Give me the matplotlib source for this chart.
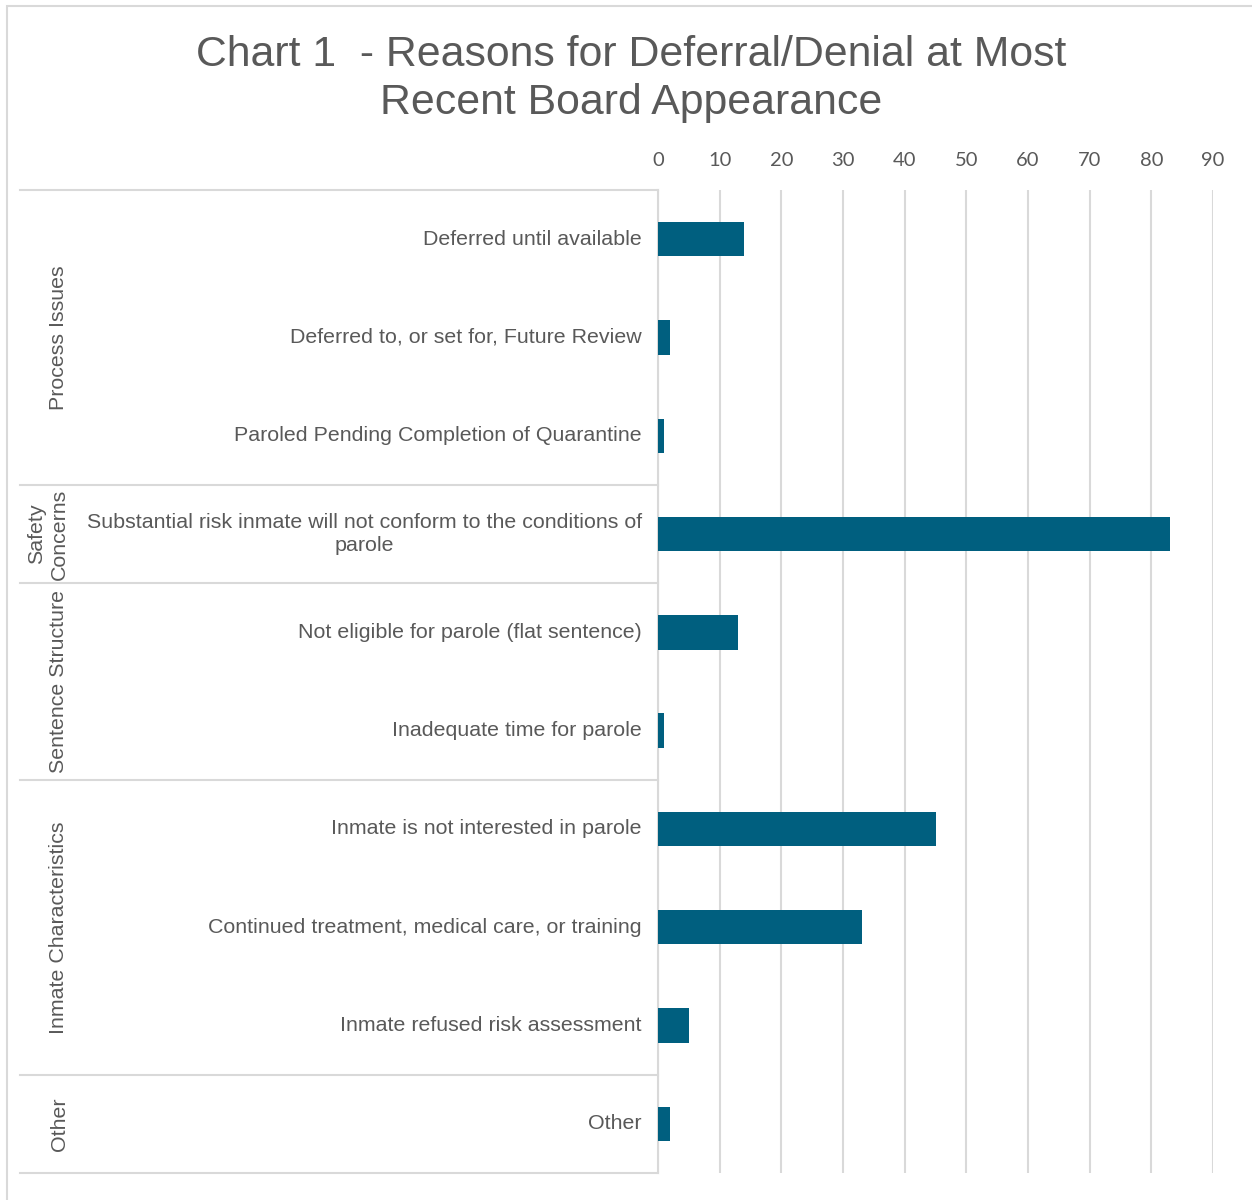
import matplotlib.pyplot as plt
from matplotlib.patches import Rectangle

categories = [
    "Deferred until available",
    "Deferred to, or set for, Future Review",
    "Paroled Pending Completion of Quarantine",
    "Substantial risk inmate will not conform to the conditions of\nparole",
    "Not eligible for parole (flat sentence)",
    "Inadequate time for parole",
    "Inmate is not interested in parole",
    "Continued treatment, medical care, or training",
    "Inmate refused risk assessment",
    "Other",
]
values = [14, 2, 1, 83, 13, 1, 45, 33, 5, 2]

groups = ["Process Issues", "Safety\nConcerns", "Sentence Structure",
          "Inmate Characteristics", "Other"]
group_sizes = [3, 1, 2, 3, 1]

x_ticks = [0, 10, 20, 30, 40, 50, 60, 70, 80, 90]

bar_color = "#005f7f"
grid_color = "#d9d9d9"
text_color = "#595959"
label_font = "Liberation Sans"

fig = plt.figure(figsize=(12.52, 12), dpi=100)
ax = fig.add_axes([658 / 1252, 1 - 1173 / 1200, 555 / 1252, (1173 - 190) / 1200])

pos = list(range(len(categories)))
ax.barh(pos, values, height=0.35, color=bar_color, zorder=3)
ax.set_xlim(0, 90)
ax.set_ylim(len(categories) - 0.5, -0.5)

ax.xaxis.tick_top()
ax.set_xticks(x_ticks)
ax.set_xticklabels([str(t) for t in x_ticks], fontsize=14.5, color=text_color, family="Lato")
ax.tick_params(axis="x", length=0, pad=15)
ax.set_yticks([])
ax.grid(axis="x", color=grid_color, linewidth=1.5, zorder=0)
for s in ["top", "right", "bottom"]:
    ax.spines[s].set_visible(False)
ax.spines["left"].set_color(grid_color)
ax.spines["left"].set_linewidth(1.5)

# category labels
trans = ax.get_yaxis_transform()
for i, lab in enumerate(categories):
    ax.text(-0.029, i, lab, transform=trans, ha="right", va="center",
            multialignment="center", fontsize=15.4, color=text_color,
            family=label_font, linespacing=1.3)

# group separators and labels
left = (20 - 658) / 555
start = -0.5
ax.plot([left, 0], [start, start], transform=trans, color=grid_color,
        linewidth=1.5, clip_on=False)
for g, n in zip(groups, group_sizes):
    end = start + n
    ax.plot([left, 0], [end, end], transform=trans, color=grid_color,
            linewidth=1.5, clip_on=False)
    gx = 48 if "\n" in g else 59
    ax.text((gx - 658) / 555, (start + end) / 2, g, transform=trans,
            rotation=90, ha="center", va="center", multialignment="center",
            fontsize=15.4, color=text_color, family=label_font, linespacing=1.3)
    start = end

fig.text(0.504, 0.971, "Chart 1  - Reasons for Deferral/Denial at Most\nRecent Board Appearance",
         ha="center", va="top", fontsize=30.8, color=text_color, family=label_font,
         linespacing=1.25)

# outer chart border
fig.add_artist(Rectangle((7 / 1252, -0.01), 1.05, 1 - 6 / 1200 + 0.01,
                         transform=fig.transFigure, fill=False,
                         edgecolor=grid_color, linewidth=1.5))

fig.savefig("out.png", dpi=100)
